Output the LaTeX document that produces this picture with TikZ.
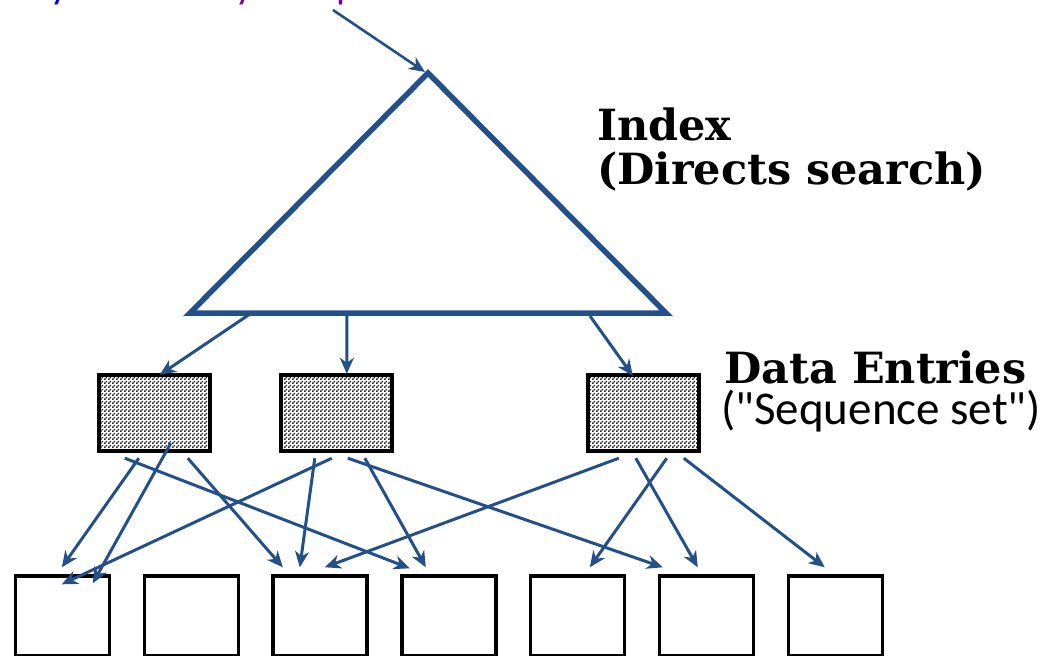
\documentclass[tikz,border=0pt]{standalone}
\usepackage{fontspec}
\setmainfont{DejaVu Serif}
\newfontfamily\calib{Carlito}
\usetikzlibrary{arrows.meta,patterns}
\definecolor{ln}{RGB}{36,80,138}
\definecolor{tblue}{RGB}{0,0,220}
\definecolor{tpurple}{RGB}{128,0,128}
\pgfdeclarepatternformonly{mydots}{\pgfpointorigin}{\pgfpoint{4pt}{4pt}}{\pgfpoint{4pt}{4pt}}{%
  \pgfpathrectangle{\pgfpoint{0pt}{0pt}}{\pgfpoint{1.9pt}{1.9pt}}%
  \pgfpathrectangle{\pgfpoint{2pt}{2pt}}{\pgfpoint{1.9pt}{1.9pt}}%
  \pgfusepath{fill}}
\tikzset{
  conn/.style={draw=ln,line width=3pt,-{Stealth[length=16pt,width=14pt,inset=5pt]}},
  leaf/.style={draw=black,line width=3.4pt,minimum width=94pt,minimum height=80pt,inner sep=0pt},
  dent/.style={draw=black,line width=4.4pt,minimum width=111pt,minimum height=76pt,inner sep=0pt,pattern=mydots,pattern color=black!85},
  lbl/.style={anchor=base west,inner sep=0pt,font=\bfseries\fontsize{43}{48}\selectfont},
}
\begin{document}
\begin{tikzpicture}[x=1pt,y=-1pt]
\useasboundingbox (0,0) rectangle (1053,656);
\clip (0,0) rectangle (1053,656);
% cut-off title text at top
\node[anchor=base west,inner sep=0pt,text=tblue,font=\calib\fontsize{40}{44}\selectfont] (t1) at (50,-2) {y};
\node[anchor=base west,inner sep=0pt,text=tpurple,font=\calib\fontsize{40}{44}\selectfont] (t2) at (235,-2) {y};
\node[anchor=base west,inner sep=0pt,text=tpurple,font=\calib\fontsize{40}{44}\selectfont] (t3) at (336,-2) {p};
% triangle
\coordinate (apex) at (428,73);
\coordinate (bl) at (190,313);
\coordinate (br) at (666,313);
\draw[ln,line width=5.5pt,line join=miter] (apex) -- (br) -- (bl) -- cycle;
\coordinate (src) at (333,10);
\draw[conn,line width=2.6pt] (src) -- ([shift={(-3,-1)}]apex);
% labels
\node[lbl] (idx) at (597,140) {Index};
\node[lbl] (dir) at (597,184) {(Directs search)};
\node[lbl] (de) at (724,383) {Data Entries};
\node[anchor=base west,inner sep=0pt,font=\calib\fontsize{47}{52}\selectfont] (seq) at (721,424) {("Sequence set")};
% data entry boxes
\node[dent] (d1) at (154.5,413) {};
\node[dent] (d2) at (336.5,413) {};
\node[dent] (d3) at (643.5,413) {};
% leaf boxes
\foreach \i in {1,...,7}{
  \node[leaf] (l\i) at ({62.5+128.8*(\i-1)},616) {};
}
% index -> data entries
\draw[conn] (250,314) -- ([shift={(63,2)}]d1.north west);
\draw[conn] (347,314) -- ([shift={(68,1)}]d2.north west);
\draw[conn] (590,316) -- ([shift={(47,3)}]d3.north west);
% data entries -> leaves
\draw[conn] ([shift={(42,5)}]d1.south west) -- ([shift={(48,-7)}]l1.north west);
\draw[conn] ([shift={(74,-10)}]d1.south west) -- ([shift={(79,9)}]l1.north west);
\draw[conn] ([shift={(28,5)}]d1.south west) -- ([shift={(9.6,-6)}]l4.north west);
\draw[conn] ([shift={(91,5)}]d1.south west) -- ([shift={(11.4,-7)}]l3.north west);
\draw[conn] ([shift={(53,5)}]d2.south west) -- ([shift={(48,10)}]l1.north west);
\draw[conn] ([shift={(36,5)}]d2.south west) -- ([shift={(28.4,-7)}]l3.north west);
\draw[conn] ([shift={(69,5)}]d2.south west) -- ([shift={(5,-7)}]l6.north west);
\draw[conn] ([shift={(86,5)}]d2.south west) -- ([shift={(25.6,-7)}]l4.north west);
\draw[conn] ([shift={(33,5)}]d3.south west) -- ([shift={(53.4,-7)}]l3.north west);
\draw[conn] ([shift={(50,5)}]d3.south west) -- ([shift={(40,-7)}]l6.north west);
\draw[conn] ([shift={(81,5)}]d3.south west) -- ([shift={(60.8,-7)}]l5.north west);
\draw[conn] ([shift={(98,5)}]d3.south west) -- ([shift={(38.2,-7)}]l7.north west);
\end{tikzpicture}
\end{document}
